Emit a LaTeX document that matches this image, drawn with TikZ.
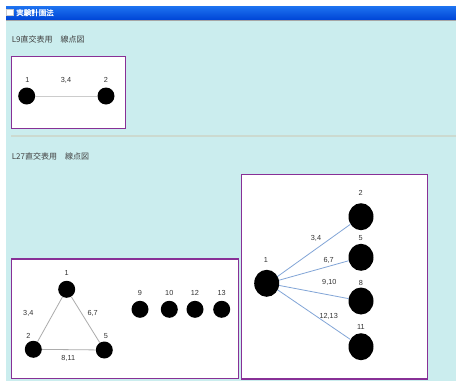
\documentclass[tikz,border=0pt]{standalone}
\usepackage{fontspec}
\setmainfont{Liberation Sans}
\newfontfamily\jpfont{Noto Sans CJK JP}
\newfontfamily\jpboldfont[FakeBold=1.5]{Noto Sans CJK JP}
\usetikzlibrary{shapes.geometric}
\definecolor{panelbg}{RGB}{203,237,238}
\definecolor{boxline}{RGB}{136,48,150}
\definecolor{barlight}{RGB}{30,115,240}
\definecolor{bardark}{RGB}{0,70,215}
\definecolor{linkblue}{RGB}{130,165,215}
\definecolor{rulegray}{RGB}{204,218,208}

\begin{document}
\begin{tikzpicture}[
  x=1pt, y=-1pt,
  font=\fontsize{7.3}{8}\selectfont,
  frame/.style={draw=boxline, line width=1.3pt, fill=white},
  bigdot/.style={ellipse, fill=black, inner sep=0pt, minimum width=25pt, minimum height=27pt},
  dot/.style={circle, fill=black, inner sep=0pt, minimum size=17pt},
  num/.style={text=black!80, inner sep=0pt},
  link/.style={draw=gray!65, line width=0.8pt},
  palelink/.style={draw=gray!40, line width=0.9pt},
  bluelink/.style={draw=linkblue, line width=0.8pt},
  heading/.style={anchor=west, inner sep=0pt, text=black!75, font=\jpfont\fontsize{8}{9}\selectfont}
]
\useasboundingbox (0,0) rectangle (456,381);
\fill[white] (0,0) rectangle (456,381);
\fill[panelbg] (6,6) rectangle (456,381);

% title bar
\shade[top color=barlight, bottom color=bardark] (6,6) rectangle (456,19.5);
\draw[gray!70, line width=0.8pt] (6,20) -- (456,20);
\draw[fill=white, draw=gray!40] (6.5,9.5) rectangle (13,15.5);
\node[anchor=west, inner sep=0pt, text=white, font=\jpboldfont\fontsize{7.5}{8}\selectfont] (title) at (16,12.7) {実験計画法};

% L9
\node[heading] (l9head) at (11.7,39.3) {L9直交表用　線点図};
\draw[frame] (11.7,56.7) rectangle (125.7,128.3);
\node[dot] (a1) at (26.7,96) {};
\node[dot] (a2) at (106,96) {};
\draw[palelink] (a1) -- (a2);
\node[num] (a1lab) at (27.3,80) {1};
\node[num] (a2lab) at (106,80) {2};
\node[num] (a12lab) at (66,80) {3,4};

\draw[rulegray, line width=2pt] (11,136) -- (456,136);

% L27
\node[heading] (l27head) at (11.7,156) {L27直交表用　線点図};

% triangle and free dots
\draw[frame] (11.7,259) rectangle (238.7,378.3);
\node[dot] (b1) at (66.7,289.3) {};
\node[dot] (b2) at (33.3,349.3) {};
\node[dot] (b5) at (104.3,350) {};
\node[dot] (b9) at (140,309.3) {};
\node[dot] (b10) at (169.3,309.3) {};
\node[dot] (b12) at (195,309.3) {};
\node[dot] (b13) at (221.7,309.3) {};
\draw[link] (b1) -- (b2);
\draw[link] (b1) -- (b5);
\draw[link] (b2) -- (b5);
\node[num] (b1lab) at (66.7,272.7) {1};
\node[num] (b2lab) at (28.3,336) {2};
\node[num] (b5lab) at (106,336) {5};
\node[num] (b12lab) at (28.3,313.3) {3,4};
\node[num] (b15lab) at (92.7,313.3) {6,7};
\node[num] (b25lab) at (68.3,358.3) {8,11};
\node[num] (b9lab) at (140,293.3) {9};
\node[num] (b10lab) at (169.3,293.3) {10};
\node[num] (b12lab) at (195,293.3) {12};
\node[num] (b13lab) at (221.7,293.3) {13};

% star
\draw[frame] (241.7,174.7) rectangle (427.7,379);
\coordinate (hub) at (268,283.3);
\node[bigdot] (c2) at (361,216.7) {};
\node[bigdot] (c5) at (361,257.3) {};
\node[bigdot] (c8) at (361,301) {};
\node[bigdot] (c11) at (361,346.7) {};
\draw[bluelink] (hub) -- (c2);
\draw[bluelink] (hub) -- (c5);
\draw[bluelink] (hub) -- (c8);
\draw[bluelink] (hub) -- (c11);
\node[bigdot] (c1) at (266.7,283.3) {};
\node[num] (c1lab) at (266,260) {1};
\node[num] (c2lab) at (360.7,193.3) {2};
\node[num] (c5lab) at (360.7,238) {5};
\node[num] (c8lab) at (361,282.7) {8};
\node[num] (c11lab) at (361,327.3) {11};
\node[num] (c12lab) at (316,238.7) {3,4};
\node[num] (c15lab) at (328.7,260.7) {6,7};
\node[num] (c18lab) at (329.3,282.7) {9,10};
\node[num] (c111lab) at (328.7,316.7) {12,13};
\end{tikzpicture}
\end{document}
